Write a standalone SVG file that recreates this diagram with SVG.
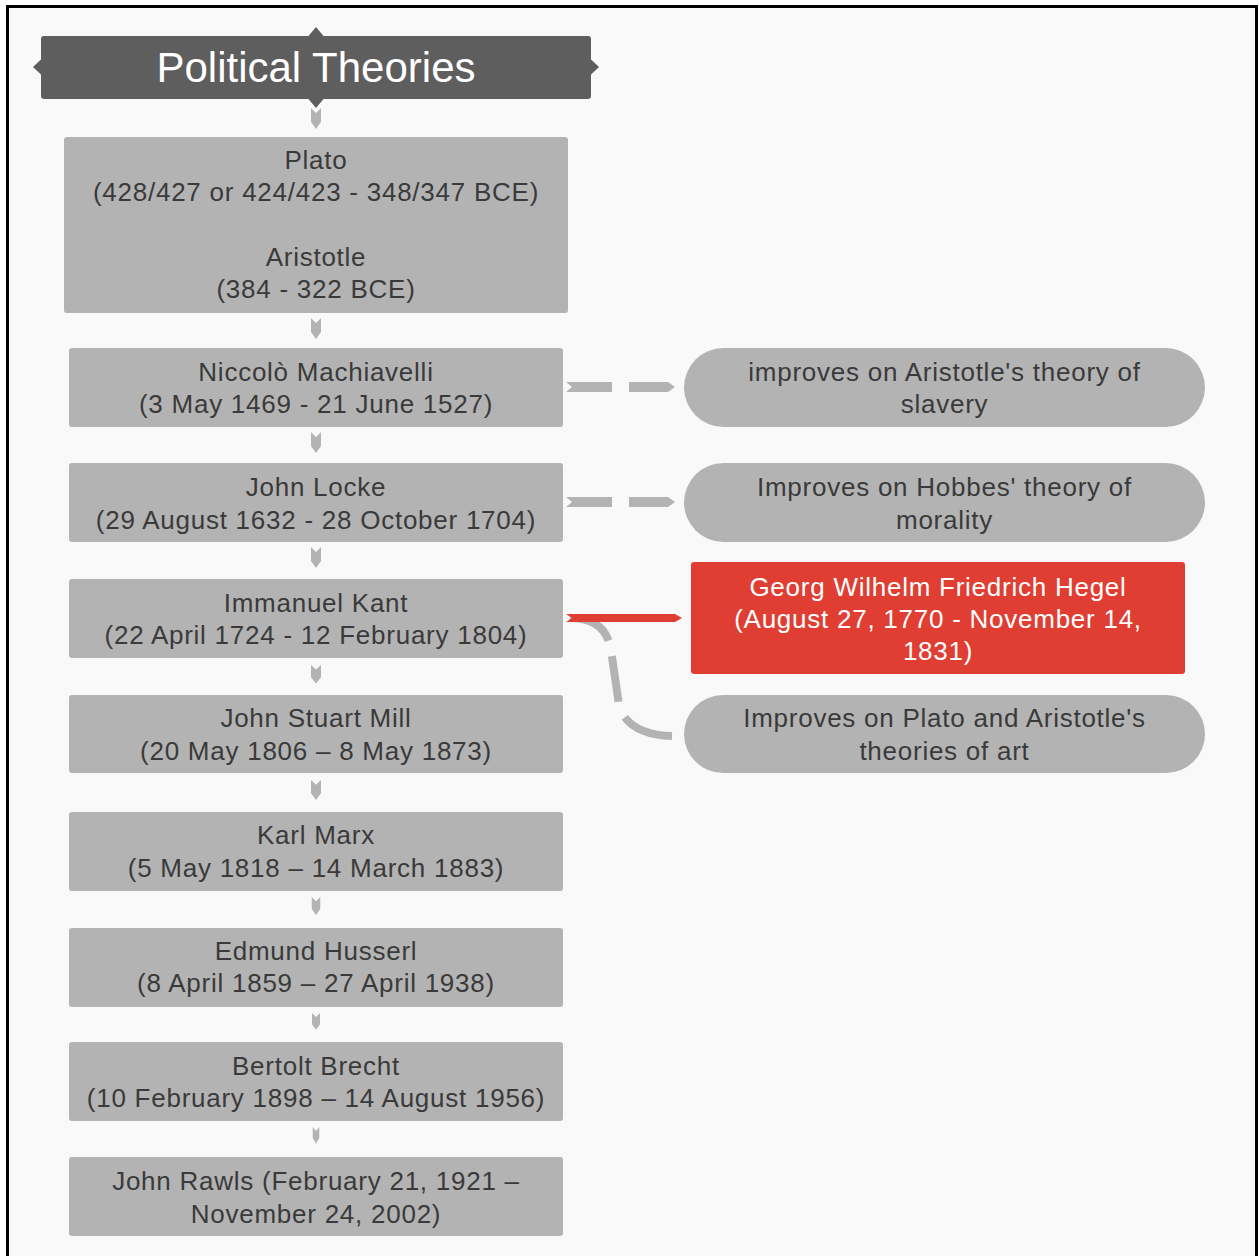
<svg xmlns="http://www.w3.org/2000/svg" width="1259" height="1256" viewBox="0 0 1259 1256">
<style>
.t{font-family:"Liberation Sans",Arial,Helvetica,sans-serif;font-size:26px;letter-spacing:0.75px;fill:#3a3a3a;text-anchor:middle}
.w{fill:#ffffff}
.box{fill:#b3b3b3}
.arr{fill:#b3b3b3}
.title{font-family:"Liberation Sans",Arial,Helvetica,sans-serif;font-size:42px;fill:#ffffff;text-anchor:middle}
</style>
<defs>
<polygon id="dn" points="-5,0 0,5 5,0 5,14 0,21 -5,14"/>
</defs>
<rect x="0" y="0" width="1259" height="1256" fill="#ffffff"/>
<rect x="8" y="7" width="1248" height="1249" fill="#f9f9f9"/>
<path d="M7.5,1256 V6.5 H1256.5 V1256" fill="none" stroke="#000" stroke-width="3"/>

<g id="title">
<rect x="41" y="36" width="550" height="63" rx="3" fill="#5e5e5e"/>
<polygon points="308,36.5 316,27 324,36.5" fill="#5e5e5e"/>
<polygon points="308,98.5 316,108 324,98.5" fill="#5e5e5e"/>
<polygon points="41.5,59 33,67 41.5,75" fill="#5e5e5e"/>
<polygon points="590.5,59 599,67 590.5,75" fill="#5e5e5e"/>
<text class="title" x="316" y="82">Political Theories</text>
</g>

<g id="connectors">
<use href="#dn" class="arr" transform="translate(316,108)"/>
<use href="#dn" class="arr" transform="translate(316,318)"/>
<use href="#dn" class="arr" transform="translate(316,432)"/>
<use href="#dn" class="arr" transform="translate(316,547)"/>
<use href="#dn" class="arr" transform="translate(316,665) scale(1,0.88)"/>
<use href="#dn" class="arr" transform="translate(316,780) scale(1,0.95)"/>
<use href="#dn" class="arr" transform="translate(316,897) scale(0.85,0.86)"/>
<use href="#dn" class="arr" transform="translate(316,1013) scale(0.8,0.8)"/>
<use href="#dn" class="arr" transform="translate(316,1127) scale(0.65,0.78)"/>
<polygon class="arr" points="566,382 612,382 612,392 566,392 572,387"/>
<polygon class="arr" points="629,382 668,382 675,387 668,392 629,392"/>
<polygon class="arr" points="566,497 612,497 612,507 566,507 572,502"/>
<polygon class="arr" points="629,497 668,497 675,502 668,507 629,507"/>
<path d="M570,618 C598,618 608,632 611,650 L619,705 C623,722 640,735 672,736" fill="none" stroke="#b3b3b3" stroke-width="8" stroke-dasharray="48 16 46 17 70"/>
<polygon points="566,614 675,614 682,618 675,622 566,622 572,618" fill="#e03e33"/>
</g>

<g id="plato">
<rect class="box" x="64" y="137" width="504" height="176" rx="3"/>
<text class="t" x="316" y="169">Plato</text>
<text class="t" x="316" y="201">(428/427 or 424/423 - 348/347 BCE)</text>
<text class="t" x="316" y="266">Aristotle</text>
<text class="t" x="316" y="298">(384 - 322 BCE)</text>
</g>
<g id="machiavelli">
<rect class="box" x="69" y="348" width="494" height="79" rx="3"/>
<text class="t" x="316" y="381">Niccolò Machiavelli</text>
<text class="t" x="316" y="413">(3 May 1469 - 21 June 1527)</text>
</g>
<g id="locke">
<rect class="box" x="69" y="463" width="494" height="79" rx="3"/>
<text class="t" x="316" y="496">John Locke</text>
<text class="t" x="316" y="529">(29 August 1632 - 28 October 1704)</text>
</g>
<g id="kant">
<rect class="box" x="69" y="579" width="494" height="79" rx="3"/>
<text class="t" x="316" y="612">Immanuel Kant</text>
<text class="t" x="316" y="644">(22 April 1724 - 12 February 1804)</text>
</g>
<g id="mill">
<rect class="box" x="69" y="695" width="494" height="78" rx="3"/>
<text class="t" x="316" y="727">John Stuart Mill</text>
<text class="t" x="316" y="760">(20 May 1806 – 8 May 1873)</text>
</g>
<g id="marx">
<rect class="box" x="69" y="812" width="494" height="79" rx="3"/>
<text class="t" x="316" y="844">Karl Marx</text>
<text class="t" x="316" y="877">(5 May 1818 – 14 March 1883)</text>
</g>
<g id="husserl">
<rect class="box" x="69" y="928" width="494" height="79" rx="3"/>
<text class="t" x="316" y="960">Edmund Husserl</text>
<text class="t" x="316" y="992">(8 April 1859 – 27 April 1938)</text>
</g>
<g id="brecht">
<rect class="box" x="69" y="1042" width="494" height="79" rx="3"/>
<text class="t" x="316" y="1075">Bertolt Brecht</text>
<text class="t" x="316" y="1107">(10 February 1898 – 14 August 1956)</text>
</g>
<g id="rawls">
<rect class="box" x="69" y="1157" width="494" height="79" rx="3"/>
<text class="t" x="316" y="1190">John Rawls (February 21, 1921 –</text>
<text class="t" x="316" y="1223">November 24, 2002)</text>
</g>
<g id="slavery">
<rect class="box" x="684" y="348" width="521" height="79" rx="39.5"/>
<text class="t" x="944.5" y="381">improves on Aristotle's theory of</text>
<text class="t" x="944.5" y="413">slavery</text>
</g>
<g id="morality">
<rect class="box" x="684" y="463" width="521" height="79" rx="39.5"/>
<text class="t" x="944.5" y="496">Improves on Hobbes' theory of</text>
<text class="t" x="944.5" y="529">morality</text>
</g>
<g id="hegel">
<rect x="691" y="562" width="494" height="112" rx="3" fill="#e03e33"/>
<text class="t w" x="938" y="596">Georg Wilhelm Friedrich Hegel</text>
<text class="t w" x="938" y="628">(August 27, 1770 - November 14,</text>
<text class="t w" x="938" y="660">1831)</text>
</g>
<g id="art">
<rect class="box" x="684" y="695" width="521" height="78" rx="39"/>
<text class="t" x="944.5" y="727">Improves on Plato and Aristotle's</text>
<text class="t" x="944.5" y="760">theories of art</text>
</g>
</svg>
